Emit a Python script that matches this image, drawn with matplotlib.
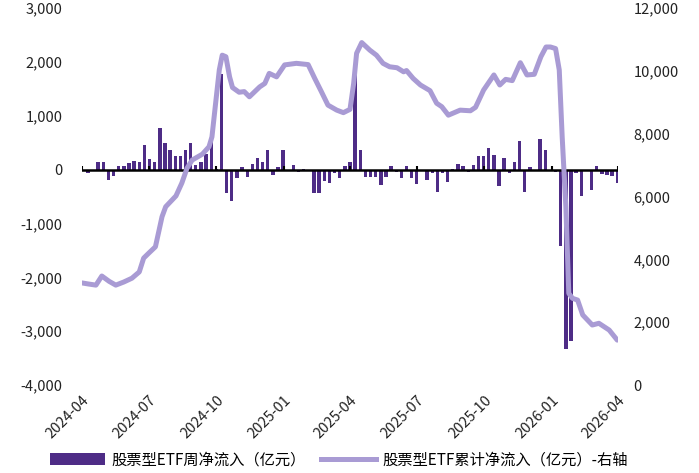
import numpy as np
import pandas as pd
import matplotlib
matplotlib.use('Agg')
import matplotlib.pyplot as plt
import matplotlib.dates as mdates
from matplotlib.ticker import FuncFormatter
from matplotlib.patches import Patch
from matplotlib.lines import Line2D

plt.rcParams['font.family'] = ['Noto Sans CJK SC', 'DejaVu Sans']
plt.rcParams['axes.unicode_minus'] = False

# Weekly net inflow of equity ETFs (100m CNY), one bar per week
week_start = '2024-04-02'
weekly_flow = [-20, -60, -10, 150, 150, -190, -110, 60, 70, 120,
               160, 135, 460, 200, 140, 775, 500, 355, 260, 260,
               365, 490, 85, 135, 285, 630, 10, 1770, -430, -590,
               -165, 40, -130, 110, 215, 135, 355, -95, 55, 355,
               -15, 85, -50, 5, -30, -435, -435, -215, -255, -70,
               -155, 60, 135, 1790, 360, -140, -140, -140, -285, -135,
               75, -50, -165, 60, -155, -265, -30, -185, -55, -415,
               -55, -235, 20, 110, 60, -50, 80, 255, 255, 400,
               265, -310, 215, -70, 140, 525, -410, 50, -30, 575,
               370, -35, -45, -1425, -3340, -3185, -60, -495, -10, -370,
               60, -75, -95, -125, -250]

# Cumulative net inflow (100m CNY), right axis
cum_dates = ['2024-04-01', '2024-04-10', '2024-04-20', '2024-04-28', '2024-05-08',
             '2024-05-17', '2024-05-28', '2024-06-08', '2024-06-18', '2024-06-24',
             '2024-07-01', '2024-07-10', '2024-07-15', '2024-07-19', '2024-07-24',
             '2024-08-07', '2024-08-15', '2024-08-22', '2024-08-29', '2024-09-12',
             '2024-09-21', '2024-09-25', '2024-09-30', '2024-10-05', '2024-10-09',
             '2024-10-14', '2024-10-19', '2024-10-23', '2024-11-01', '2024-11-08',
             '2024-11-15', '2024-11-29', '2024-12-06', '2024-12-12', '2024-12-22',
             '2025-01-02', '2025-01-18', '2025-02-03', '2025-02-12', '2025-02-21',
             '2025-03-02', '2025-03-14', '2025-03-23', '2025-04-01', '2025-04-06',
             '2025-04-10', '2025-04-17', '2025-04-28', '2025-05-07', '2025-05-16',
             '2025-05-25', '2025-06-04', '2025-06-13', '2025-06-17', '2025-06-26',
             '2025-07-06', '2025-07-19', '2025-07-28', '2025-08-04', '2025-08-13',
             '2025-08-29', '2025-09-12', '2025-09-19', '2025-09-30', '2025-10-14',
             '2025-10-22', '2025-10-30', '2025-11-08', '2025-11-19', '2025-11-28',
             '2025-12-08', '2025-12-17', '2025-12-24', '2025-12-30', '2026-01-06',
             '2026-01-11', '2026-01-15', '2026-01-20', '2026-01-24', '2026-01-29',
             '2026-02-05', '2026-02-12', '2026-02-25', '2026-03-06', '2026-03-20',
             '2026-03-31']
cum_flow = [3250, 3215, 3180, 3470, 3300, 3180, 3280, 3400, 3600, 4040,
            4200, 4400, 4930, 5357, 5675, 6020, 6430, 6900, 7160, 7350,
            7585, 7900, 8970, 10030, 10500, 10450, 9810, 9470, 9320, 9340,
            9175, 9490, 9600, 9920, 9810, 10190, 10240, 10200, 9760, 9340,
            8910, 8750, 8670, 8775, 9600, 10560, 10900, 10660, 10500, 10240,
            10130, 10100, 9970, 10010, 9760, 9550, 9370, 8970, 8860, 8590,
            8750, 8730, 8840, 9390, 9870, 9550, 9730, 9690, 10260, 9870,
            9890, 10450, 10760, 10760, 10710, 10030, 7900, 5675, 2920, 2760,
            2705, 2230, 1910, 1965, 1750, 1430]

quarter_ticks = ['2024-04-01', '2024-07-01', '2024-10-01', '2025-01-01', '2025-04-01',
                 '2025-07-01', '2025-10-01', '2026-01-01', '2026-04-01']

bar_label = '股票型ETF周净流入（亿元）'
line_label = '股票型ETF累计净流入（亿元）-右轴'

bar_color = '#4e2c86'
line_color = '#a99bd4'

bar_dates = pd.date_range(week_start, periods=len(weekly_flow), freq='7D')
cum_dates = pd.to_datetime(cum_dates)
ticks = pd.to_datetime(quarter_ticks)

fig = plt.figure(figsize=(6.99, 4.73), dpi=100)
ax = fig.add_axes([0.1173, 0.186, 0.7668, 0.797])
ax2 = ax.twinx()

ax.bar(bar_dates, weekly_flow, width=4.6, color=bar_color, zorder=2)
# zero line with small quarter tick marks
ax.axhline(0, color='black', lw=1.8, zorder=3)
ax.vlines(ticks, 0, 70, color='black', lw=1.5, zorder=3)

ax2.plot(cum_dates, cum_flow, color=line_color, lw=3.6,
         solid_joinstyle='round', solid_capstyle='round')

ax.set_ylim(-4000, 3000)
ax.set_yticks(np.arange(-4000, 3001, 1000))
ax2.set_ylim(0, 12000)
ax2.set_yticks(np.arange(0, 12001, 2000))
fmt = FuncFormatter(lambda v, p: f'{v:,.0f}')
ax.yaxis.set_major_formatter(fmt)
ax2.yaxis.set_major_formatter(fmt)

ax.set_xlim(pd.Timestamp('2024-04-01'), pd.Timestamp('2026-04-01'))
ax.set_xticks(ticks)
ax.xaxis.set_major_formatter(mdates.DateFormatter('%Y-%m'))
for lbl in ax.get_xticklabels():
    lbl.set_rotation(45)
    lbl.set_ha('right')
    lbl.set_rotation_mode('anchor')

for a in (ax, ax2):
    for s in a.spines.values():
        s.set_visible(False)
ax.tick_params(axis='x', length=0, pad=6, labelsize=10.5, colors='#222222')
ax.tick_params(axis='y', length=0, pad=14, labelsize=10.5, colors='#222222')
ax2.tick_params(axis='y', length=0, pad=11, labelsize=10.5, colors='#222222')

handles = [Patch(facecolor=bar_color, edgecolor='none'),
           Line2D([0], [0], color=line_color, lw=3.6)]
fig.legend(handles, [bar_label, line_label], loc='center',
           bbox_to_anchor=(0.485, 0.028), ncol=2, frameon=False,
           fontsize=11, handlelength=3.6, handleheight=0.8,
           handletextpad=0.4, columnspacing=1.0)

fig.savefig('out.png', dpi=100)
